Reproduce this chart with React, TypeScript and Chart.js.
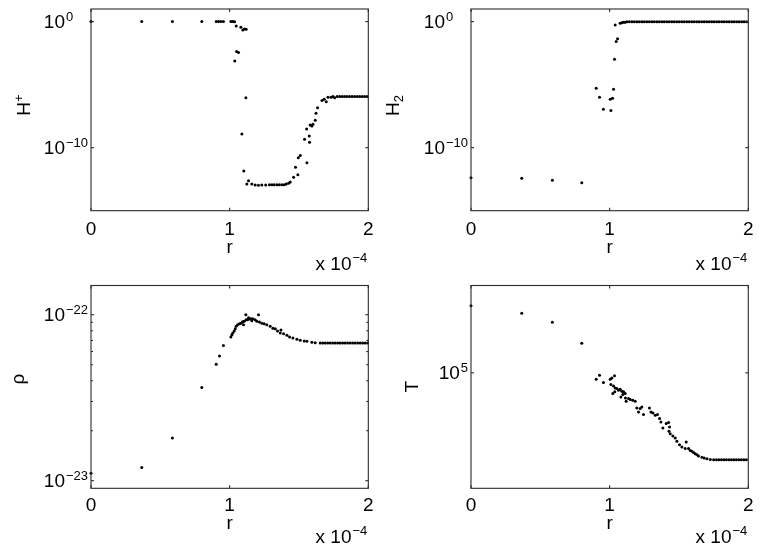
import React, { useEffect, useRef } from "react";
import { Chart, registerables } from "chart.js";

Chart.register(...registerables);

// r values are in units of 1e-4 (axis shows "x 10^-4")
const X_TICKS = [0, 1, 2];
const X_TICK_LABELS = ["0", "1", "2"];

// ---- H+ panel ----
const hPlusR = [0, 0.366, 0.587, 0.799, 0.903, 0.919, 0.936, 0.955, 1.009, 1.023, 1.035, 1.047, 1.081, 1.095, 1.107, 1.119, 1.05, 1.064, 1.037, 1.117, 1.088, 1.102, 1.124, 1.136, 1.16, 1.184, 1.208, 1.232, 1.26, 1.287, 1.305, 1.321, 1.341, 1.358, 1.376, 1.394, 1.408, 1.425, 1.437, 1.461, 1.492, 1.475, 1.495, 1.509, 1.557, 1.54, 1.574, 1.576, 1.555, 1.581, 1.593, 1.601, 1.617, 1.623, 1.634, 1.666, 1.682, 1.697, 1.709, 1.731, 1.745, 1.757, 1.775, 1.793, 1.811, 1.829, 1.847, 1.865, 1.883, 1.901, 1.919, 1.937, 1.955, 1.973, 1.991];
const hPlusV = [1, 1, 1, 1, 1, 1, 1, 1, 1, 1, 0.98, 0.457, 0.355, 0.219, 0.263, 0.251, 4.2e-3, 3.5e-3, 7.6e-4, 9.3e-7, 1.23e-9, 1.41e-12, 1.32e-13, 2.4e-13, 1.32e-13, 1.1e-13, 1.05e-13, 1.1e-13, 1.1e-13, 1.12e-13, 1.12e-13, 1.12e-13, 1.12e-13, 1.12e-13, 1.12e-13, 1.12e-13, 1.32e-13, 1.48e-13, 1.9e-13, 4.5e-13, 7.2e-13, 2.75e-12, 1.62e-11, 2.34e-11, 6.5e-12, 4.7e-10, 8.5e-10, 2.7e-10, 3.0e-9, 6.3e-9, 5.2e-9, 7.2e-9, 1.48e-8, 5.4e-8, 1.48e-7, 5.4e-7, 6.9e-7, 4.3e-7, 1.0e-6, 1.0e-6, 1.12e-6, 9.3e-7, 1.12e-6, 1.12e-6, 1.12e-6, 1.12e-6, 1.12e-6, 1.12e-6, 1.12e-6, 1.12e-6, 1.12e-6, 1.12e-6, 1.12e-6, 1.12e-6, 1.12e-6];

// ---- H2 panel ----
const h2R = [0, 0.366, 0.587, 0.799, 0.903, 0.927, 0.955, 1.004, 1.009, 1.021, 1.028, 1.035, 1.04, 1.047, 1.057, 1.076, 1.088, 1.1, 1.112, 1.124, 1.142, 1.16, 1.178, 1.196, 1.214, 1.232, 1.25, 1.268, 1.286, 1.304, 1.322, 1.34, 1.358, 1.376, 1.394, 1.412, 1.43, 1.448, 1.466, 1.484, 1.502, 1.52, 1.538, 1.556, 1.574, 1.592, 1.61, 1.628, 1.646, 1.664, 1.682, 1.7, 1.718, 1.736, 1.754, 1.772, 1.79, 1.808, 1.826, 1.844, 1.862, 1.88, 1.898, 1.916, 1.934, 1.952, 1.97, 1.988];
const h2V = [4.2e-13, 3.7e-13, 2.6e-13, 1.66e-13, 5.1e-6, 1.0e-6, 1.12e-7, 6.9e-7, 8.7e-8, 8.3e-7, 4.3e-6, 1.05e-3, 0.55, 2.6e-2, 4.3e-2, 0.74, 0.83, 0.89, 0.89, 0.97, 0.97, 0.97, 0.97, 0.97, 0.97, 0.97, 0.97, 0.97, 0.97, 0.97, 0.97, 0.97, 0.97, 0.97, 0.97, 0.97, 0.97, 0.97, 0.97, 0.97, 0.97, 0.97, 0.97, 0.97, 0.97, 0.97, 0.97, 0.97, 0.97, 0.97, 0.97, 0.97, 0.97, 0.97, 0.97, 0.97, 0.97, 0.97, 0.97, 0.97, 0.97, 0.97, 0.97, 0.97, 0.97, 0.97, 0.97, 0.97];

// ---- rho panel ----
const rhoR = [0, 0.366, 0.587, 0.799, 0.903, 0.927, 0.955, 1.009, 1.016, 1.023, 1.033, 1.04, 1.047, 1.057, 1.071, 1.081, 1.093, 1.105, 1.119, 1.129, 1.143, 1.153, 1.167, 1.184, 1.196, 1.215, 1.232, 1.249, 1.268, 1.292, 1.312, 1.329, 1.345, 1.365, 1.389, 1.413, 1.432, 1.456, 1.485, 1.509, 1.538, 1.557, 1.593, 1.617, 1.653, 1.1, 1.136, 1.16, 1.37, 1.117, 1.208, 1.671, 1.689, 1.707, 1.725, 1.743, 1.761, 1.779, 1.797, 1.815, 1.833, 1.851, 1.869, 1.887, 1.905, 1.923, 1.941, 1.959, 1.977, 1.995];
const rhoV = [1.11e-23, 1.2e-23, 1.81e-23, 3.64e-23, 5.03e-23, 5.64e-23, 6.52e-23, 7.33e-23, 7.58e-23, 7.75e-23, 7.97e-23, 8.24e-23, 8.51e-23, 8.71e-23, 8.83e-23, 8.9e-23, 9.08e-23, 9.15e-23, 9.33e-23, 9.33e-23, 9.41e-23, 9.46e-23, 9.46e-23, 9.33e-23, 9.15e-23, 9.03e-23, 8.9e-23, 8.83e-23, 8.71e-23, 8.51e-23, 8.3e-23, 8.24e-23, 7.97e-23, 7.75e-23, 7.69e-23, 7.51e-23, 7.33e-23, 7.23e-23, 7.11e-23, 7.01e-23, 6.94e-23, 6.92e-23, 6.82e-23, 6.79e-23, 6.75e-23, 8.7e-23, 9.6e-23, 9.2e-23, 8.1e-23, 1.0e-22, 1.0e-22, 6.75e-23, 6.75e-23, 6.75e-23, 6.75e-23, 6.75e-23, 6.75e-23, 6.75e-23, 6.75e-23, 6.75e-23, 6.75e-23, 6.75e-23, 6.75e-23, 6.75e-23, 6.75e-23, 6.75e-23, 6.75e-23, 6.75e-23, 6.75e-23, 6.75e-23];

// ---- T panel ----
const tR = [0, 0.366, 0.587, 0.799, 0.903, 0.927, 0.955, 1.004, 1.016, 1.035, 1.009, 1.028, 1.04, 1.023, 1.037, 1.052, 1.064, 1.076, 1.088, 1.1, 1.112, 1.081, 1.095, 1.114, 1.119, 1.136, 1.148, 1.167, 1.184, 1.196, 1.208, 1.22, 1.232, 1.244, 1.287, 1.298, 1.312, 1.329, 1.345, 1.36, 1.37, 1.384, 1.408, 1.425, 1.432, 1.428, 1.437, 1.456, 1.473, 1.485, 1.504, 1.521, 1.552, 1.545, 1.569, 1.581, 1.593, 1.605, 1.617, 1.63, 1.641, 1.666, 1.682, 1.702, 1.726, 1.75, 1.77, 1.788, 1.806, 1.824, 1.842, 1.86, 1.878, 1.896, 1.914, 1.932, 1.95, 1.968, 1.986];
const tV = [2.9e5, 2.57e5, 2.23e5, 1.6e5, 9.04e4, 9.64e4, 8.59e4, 9.04e4, 9.23e4, 9.54e4, 8.32e4, 8.13e4, 7.87e4, 7.21e4, 7.4e4, 7.8e4, 7.59e4, 7.71e4, 7.48e4, 7.4e4, 7.21e4, 6.82e4, 7.1e4, 6.71e4, 6.37e4, 6.65e4, 6.55e4, 6.47e4, 6.37e4, 5.73e4, 5.37e4, 5.67e4, 5.82e4, 5.16e4, 5.73e4, 5.37e4, 5.29e4, 5.1e4, 5.16e4, 4.84e4, 4.58e4, 4.17e4, 4.47e4, 4.54e4, 4.24e4, 3.95e4, 3.81e4, 3.67e4, 3.56e4, 3.37e4, 3.2e4, 3.08e4, 3.33e4, 3.01e4, 3.01e4, 2.92e4, 2.88e4, 2.82e4, 2.77e4, 2.73e4, 2.67e4, 2.62e4, 2.59e4, 2.56e4, 2.53e4, 2.52e4, 2.52e4, 2.52e4, 2.52e4, 2.52e4, 2.52e4, 2.52e4, 2.52e4, 2.52e4, 2.52e4, 2.52e4, 2.52e4, 2.52e4, 2.52e4];

// y tick values and their exponent labels
const H_Y_TICKS = [1e0, 1e-10];
const H_Y_EXP = ["0", "\u221210"];
const RHO_Y_TICKS = [1e-22, 1e-23];
const RHO_Y_EXP = ["\u221222", "\u221223"];
const RHO_Y_MINOR = [2e-23, 3e-23, 4e-23, 5e-23, 6e-23, 7e-23, 8e-23, 9e-23];
const T_Y_TICKS = [1e5];
const T_Y_EXP = ["5"];

const FONT_FAMILY = '"Liberation Sans", Arial, Helvetica, sans-serif';
const BASE_FONT = `19px ${FONT_FAMILY}`;
const EXP_FONT = `13px ${FONT_FAMILY}`;

type Panel = {
  left: number; top: number; width: number; height: number;
  box: { l: number; t: number; r: number; b: number };
  xs: number[]; ys: number[];
  yMin: number; yMax: number;
  yTicks: number[]; yExp: string[]; yMinor: number[];
  label: { base: string; script?: string; kind?: "sup" | "sub"; x: number; y: number };
  off: { tick: number; r: number; mult: number };
};

const PANELS: Panel[] = [
  {
    left: 0, top: 0, width: 380, height: 272,
    box: { l: 91, t: 9, r: 368.3, b: 210.7 },
    xs: hPlusR, ys: hPlusV, yMin: 1e-15, yMax: 1e1,
    yTicks: H_Y_TICKS, yExp: H_Y_EXP, yMinor: [],
    label: { base: "H", script: "+", kind: "sup", x: 30, y: 105 },
    off: { tick: 24, r: 42.5, mult: 59.5 },
  },
  {
    left: 380, top: 0, width: 383, height: 272,
    box: { l: 91, t: 9, r: 368.3, b: 210.7 },
    xs: h2R, ys: h2V, yMin: 1e-15, yMax: 1e1,
    yTicks: H_Y_TICKS, yExp: H_Y_EXP, yMinor: [],
    label: { base: "H", script: "2", kind: "sub", x: 19, y: 105.5 },
    off: { tick: 24, r: 42.5, mult: 59.5 },
  },
  {
    left: 0, top: 272, width: 380, height: 273,
    box: { l: 91, t: 13.5, r: 368.3, b: 216.3 },
    xs: rhoR, ys: rhoV, yMin: 9e-24, yMax: 1.5e-22,
    yTicks: RHO_Y_TICKS, yExp: RHO_Y_EXP, yMinor: RHO_Y_MINOR,
    label: { base: "\u03c1", x: 24, y: 107 },
    off: { tick: 23, r: 40.5, mult: 55 },
  },
  {
    left: 380, top: 272, width: 383, height: 273,
    box: { l: 91, t: 13.5, r: 368.3, b: 216.3 },
    xs: tR, ys: tV, yMin: 1.6e4, yMax: 4e5,
    yTicks: T_Y_TICKS, yExp: T_Y_EXP, yMinor: [],
    label: { base: "T", x: 38.3, y: 114.7 },
    off: { tick: 23, r: 40.5, mult: 55 },
  },
];

function makeAxesPlugin(p: Panel) {
  return {
    id: "matlabAxes",
    afterDraw(chart: any) {
      const ctx: CanvasRenderingContext2D = chart.ctx;
      const a = chart.chartArea;
      const xs = chart.scales.x;
      const ys = chart.scales.y;
      const line = (x1: number, y1: number, x2: number, y2: number) => {
        ctx.beginPath();
        ctx.moveTo(x1, y1);
        ctx.lineTo(x2, y2);
        ctx.stroke();
      };
      ctx.save();
      ctx.strokeStyle = "#2a2a2a";
      ctx.lineWidth = 1.1;
      ctx.strokeRect(a.left, a.top, a.right - a.left, a.bottom - a.top);
      X_TICKS.forEach((t) => {
        const px = xs.getPixelForValue(t);
        line(px, a.bottom, px, a.bottom - 3);
        line(px, a.top, px, a.top + 3);
      });
      p.yTicks.forEach((t) => {
        const py = ys.getPixelForValue(t);
        line(a.left, py, a.left + 3, py);
        line(a.right, py, a.right - 3, py);
      });
      p.yMinor.forEach((t) => {
        const py = ys.getPixelForValue(t);
        line(a.left, py, a.left + 2, py);
        line(a.right, py, a.right - 2, py);
      });

      ctx.fillStyle = "#000";
      ctx.textBaseline = "alphabetic";
      // x tick labels
      ctx.font = BASE_FONT;
      ctx.textAlign = "center";
      X_TICKS.forEach((t, i) => {
        ctx.fillText(X_TICK_LABELS[i], xs.getPixelForValue(t), a.bottom + p.off.tick);
      });
      // x label
      ctx.fillText("r", (a.left + a.right) / 2, a.bottom + p.off.r);
      // multiplier
      ctx.font = EXP_FONT;
      ctx.textAlign = "right";
      const mExp = "\u22124";
      const mw = ctx.measureText(mExp).width;
      ctx.fillText(mExp, a.right - 1, a.bottom + p.off.mult - 8);
      ctx.font = BASE_FONT;
      ctx.fillText("x 10", a.right - 2 - mw, a.bottom + p.off.mult);

      // y tick labels
      ctx.font = EXP_FONT;
      let maxW = 0;
      p.yExp.forEach((e) => { maxW = Math.max(maxW, ctx.measureText(e).width); });
      const baseRight = a.left - 3 - maxW - 1;
      p.yTicks.forEach((t, i) => {
        const py = ys.getPixelForValue(t);
        ctx.font = BASE_FONT;
        ctx.textAlign = "right";
        ctx.fillText("10", baseRight, py + 6.6);
        ctx.font = EXP_FONT;
        ctx.textAlign = "left";
        ctx.fillText(p.yExp[i], baseRight + 1, py - 0.8);
      });

      // y label (rotated)
      const L = p.label;
      ctx.save();
      ctx.translate(L.x, L.y);
      ctx.rotate(-Math.PI / 2);
      ctx.font = BASE_FONT;
      const bw = ctx.measureText(L.base).width;
      let sw = 0;
      if (L.script) {
        ctx.font = EXP_FONT;
        sw = ctx.measureText(L.script).width;
      }
      const start = -(bw + sw) / 2;
      ctx.textAlign = "left";
      ctx.font = BASE_FONT;
      ctx.fillText(L.base, start, 0);
      if (L.script) {
        ctx.font = EXP_FONT;
        ctx.fillText(L.script, start + bw, L.kind === "sup" ? -7.5 : 4);
      }
      ctx.restore();
      ctx.restore();
    },
  };
}

function PanelChart({ p }: { p: Panel }) {
  const ref = useRef<HTMLCanvasElement | null>(null);
  useEffect(() => {
    if (!ref.current) return;
    const chart = new Chart(ref.current, {
      type: "scatter",
      data: {
        datasets: [
          {
            data: p.xs.map((x, i) => ({ x, y: p.ys[i] })),
            pointRadius: 1.5,
            pointHoverRadius: 1.5,
            pointBackgroundColor: "#000",
            backgroundColor: "#000",
            pointBorderWidth: 0,
            borderWidth: 0,
            showLine: false,
            clip: false as any,
          },
        ],
      },
      options: {
        responsive: false,
        animation: false,
        events: [],
        layout: {
          padding: {
            left: p.box.l,
            top: p.box.t,
            right: p.width - p.box.r,
            bottom: p.height - p.box.b,
          },
        },
        plugins: { legend: { display: false }, tooltip: { enabled: false } },
        scales: {
          x: { type: "linear", min: 0, max: 2, display: false },
          y: { type: "logarithmic", min: p.yMin, max: p.yMax, display: false },
        },
      },
      plugins: [makeAxesPlugin(p)],
    } as any);
    return () => chart.destroy();
  }, [p]);
  return (
    <canvas
      ref={ref}
      width={p.width}
      height={p.height}
      style={{ position: "absolute", left: p.left, top: p.top, width: p.width, height: p.height }}
    />
  );
}

export default function App() {
  return (
    <div
      style={{
        position: "fixed",
        left: 0,
        top: 0,
        width: 763,
        height: 545,
        background: "#fff",
        overflow: "hidden",
      }}
    >
      {PANELS.map((p, i) => (
        <PanelChart key={i} p={p} />
      ))}
    </div>
  );
}
